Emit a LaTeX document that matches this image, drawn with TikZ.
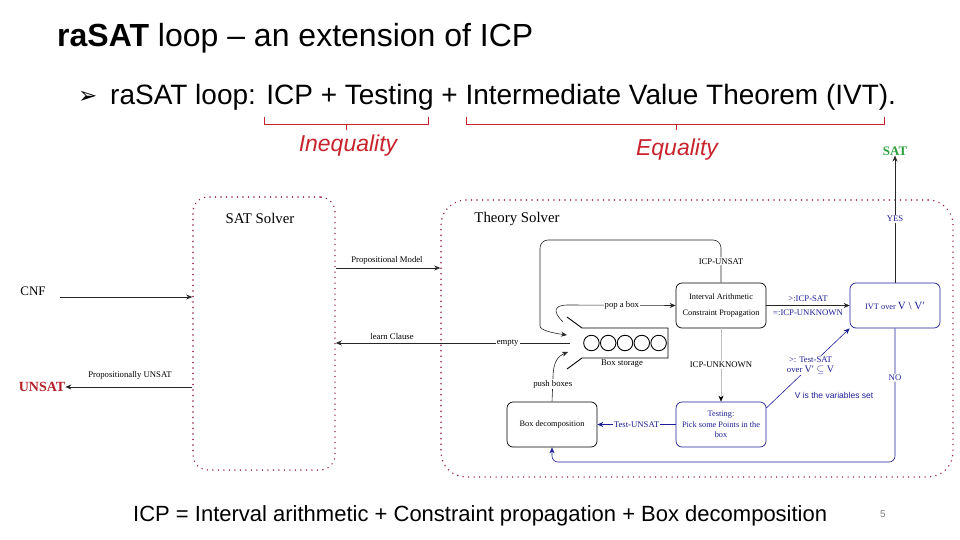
\documentclass[tikz,border=0pt]{standalone}
\usepackage{fontspec}
\setmainfont{Liberation Serif}
\newfontfamily\arialf{Liberation Sans}
\newfontfamily\tms{Liberation Serif}
\newfontfamily\dejavu{DejaVu Sans}
\usetikzlibrary{arrows.meta,calc}
\definecolor{bracered}{RGB}{200,35,45}
\definecolor{dotred}{RGB}{150,30,80}
\definecolor{navy}{RGB}{30,30,150}
\definecolor{satgreen}{RGB}{40,160,60}
\definecolor{unsatred}{RGB}{180,30,40}
\begin{document}
\begin{tikzpicture}[x=1pt,y=-1pt,
  dotbox/.style={draw=dotred, line width=1.6pt, dash pattern=on 0pt off 5.5pt, line cap=round, minimum width=#1},
  rbox/.style={draw, rounded corners=6pt, minimum width=90pt, minimum height=45pt, align=center, inner sep=2pt,
               font=\tms\fontsize{8.3}{10.5}\selectfont, line width=0.7pt},
  bbox/.style={rbox, draw=navy, text=navy},
  lbl/.style={font=\tms\fontsize{8.7}{10}\selectfont, inner sep=1pt},
  wlbl/.style={lbl, fill=white},
  arr/.style={-{Stealth[length=6pt,width=5pt]}, line width=0.6pt, draw=black!85},
  barr/.style={arr, draw=navy},
  brace/.style={draw=bracered, line width=0.8pt},
  txt/.style={inner sep=0pt}]
\useasboundingbox (0,0) rectangle (960,540);

% slide texts
\node[txt, anchor=base west, font=\arialf\fontsize{32}{36}\selectfont] (title) at (57,47) {\textbf{raSAT} loop – an extension of ICP};
\node[txt, anchor=base west, font=\dejavu\fontsize{23}{26}\selectfont] (bul) at (78,104) {➢};
\node[txt, anchor=base west, font=\arialf\fontsize{28}{32}\selectfont] (bullet) at (110,105) {raSAT loop: ICP + Testing + Intermediate Value Theorem (IVT).};

% braces
\draw[brace] (264,117) -- (264,124) -- (428,124) -- (428,117);
\draw[brace] (346,124) -- (346,130);
\draw[brace] (466,117) -- (466,124) -- (884,124) -- (884,117);
\draw[brace] (676,124) -- (676,130);
\node[txt, font=\arialf\itshape\fontsize{23}{26}\selectfont, text=bracered] (ineq) at (348,146) {Inequality};
\node[txt, font=\arialf\itshape\fontsize{23}{26}\selectfont, text=bracered] (eq) at (677,150) {Equality};

% solver frames
\node[dotbox=142pt, minimum height=273pt, rounded corners=15pt] (satsolver) at (264,333.5) {};
\node[dotbox=512pt, minimum height=277pt, rounded corners=25pt] (theory) at (697,338.5) {};
\node[txt, font=\tms\fontsize{14.8}{16}\selectfont] (satlbl) at (260,218) {SAT Solver};
\node[txt, font=\tms\fontsize{14.8}{16}\selectfont] (thlbl) at (517,219) {Theory Solver};

% outer inputs / outputs
\node[txt, font=\tms\fontsize{13}{15}\selectfont] (cnf) at (33,291) {CNF};
\coordinate (cnfout) at (60,297);
\draw[arr] (cnfout) -- (satsolver.west |- cnfout);
\node[txt, font=\tms\bfseries\fontsize{14}{16}\selectfont, text=unsatred] (unsat) at (42,387) {UNSAT};
\draw[arr] (satsolver.west |- unsat) -- (unsat.east);
\node[lbl] (propunsat) at (130,375) {Propositionally UNSAT};
\node[txt, font=\tms\bfseries\fontsize{13}{15}\selectfont, text=satgreen] (sat) at (895,151) {SAT};

% SAT solver <-> theory
\coordinate (pmy) at (0,268);
\draw[arr] (satsolver.east |- pmy) -- (theory.west |- pmy);
\node[lbl] (pmlbl) at (387,260) {Propositional Model};

% theory boxes
\node[rbox] (ia) at (721,305.5) {Interval Arithmetic\\[6pt]Constraint Propagation};
\node[bbox] (ivt) at (895,305.5) {\fontsize{8.3}{10}\selectfont IVT over \fontsize{11}{12}\selectfont V \textbackslash{} V′};
\node[bbox] (test) at (721,424.5) {Testing:\\Pick some Points in the\\box};
\node[rbox] (bd) at (552,424.5) {Box decomposition};

% box storage
\draw[line width=0.9pt] (567,317) -- (582,328) -- (668,328) -- (668,358) -- (582,358) -- (567,369);
\foreach \i/\x in {1/591.4,2/608.2,3/625,4/641.8,5/658.6}
  \node[circle, draw, line width=0.9pt, minimum size=15.5pt, inner sep=0pt] (c\i) at (\x,343) {};
\node[lbl] (stlbl) at (622,364) {Box storage};
\coordinate (stin) at (570,343);

% empty / learn clause
\draw[arr] (stin) -- node[wlbl, pos=0.266] {empty} (satsolver.east |- stin);
\node[lbl] (lclbl) at (392,337) {learn Clause};

% pop a box
\coordinate (popstart) at (563,322);
\draw[arr] (popstart) .. controls (553,312) and (553,305) .. (568,305) -- node[wlbl] {pop a box} (ia.west);

% ICP-UNSAT loop
\coordinate (unsy) at (0,240);
\coordinate (unsl) at (540,240);
\coordinate (unsend) at (567,335);
\draw[arr, rounded corners=8pt] (ia.north) -- node[wlbl] {ICP-UNSAT} (ia.north |- unsy) -- (unsl) -- (540,318) .. controls (540,330) and (552,333) .. (unsend);

% push boxes
\coordinate (pushend) at (568,352);
\draw[arr] (bd.north) -- node[wlbl, pos=0.75] {push boxes} (553,378) .. controls (553,362) and (558,356) .. (pushend);

% ICP-SAT to IVT
\draw[arr] (ia.east) -- node[lbl, above=3pt, text=navy] {>:ICP-SAT} node[lbl, below=3pt, text=navy] {=:ICP-UNKNOWN} (ivt.west);

% ICP-UNKNOWN
\draw[arr, draw=black!25, -{Stealth[length=6pt,width=5pt,black]}] (ia.south) -- node[wlbl] {ICP-UNKNOWN} (test.north);

% Test-UNSAT
\draw[barr] (test.west) -- node[wlbl, text=navy] {Test-UNSAT} (bd.east);

% Test-SAT
\draw[barr] (test.20) -- node[wlbl, text=navy, align=center, pos=0.53] {>: Test-SAT\\over {\fontsize{10}{10}\selectfont V′ $\subseteq$ V}} (ivt.south west);
\node[txt, font=\arialf\fontsize{8.5}{10}\selectfont, text=navy] (vset) at (834,395) {V is the variables set};

% NO
\coordinate (noy) at (0,462);
\draw[barr, rounded corners=6pt] (ivt.south) -- node[wlbl, text=navy, pos=0.37] {NO} (ivt.south |- noy) -- (bd.south |- noy) -- (bd.south);

% YES
\draw[arr] (ivt.north) -- node[wlbl, text=navy, pos=0.5] {YES} (sat.south);

% footer
\node[txt, anchor=base west, font=\arialf\fontsize{22}{26}\selectfont] (foot) at (133,521) {ICP = Interval arithmetic + Constraint propagation + Box decomposition};
\node[txt, font=\arialf\fontsize{10}{12}\selectfont, text=black!50] (pnum) at (883,514) {5};
\end{tikzpicture}
\end{document}
